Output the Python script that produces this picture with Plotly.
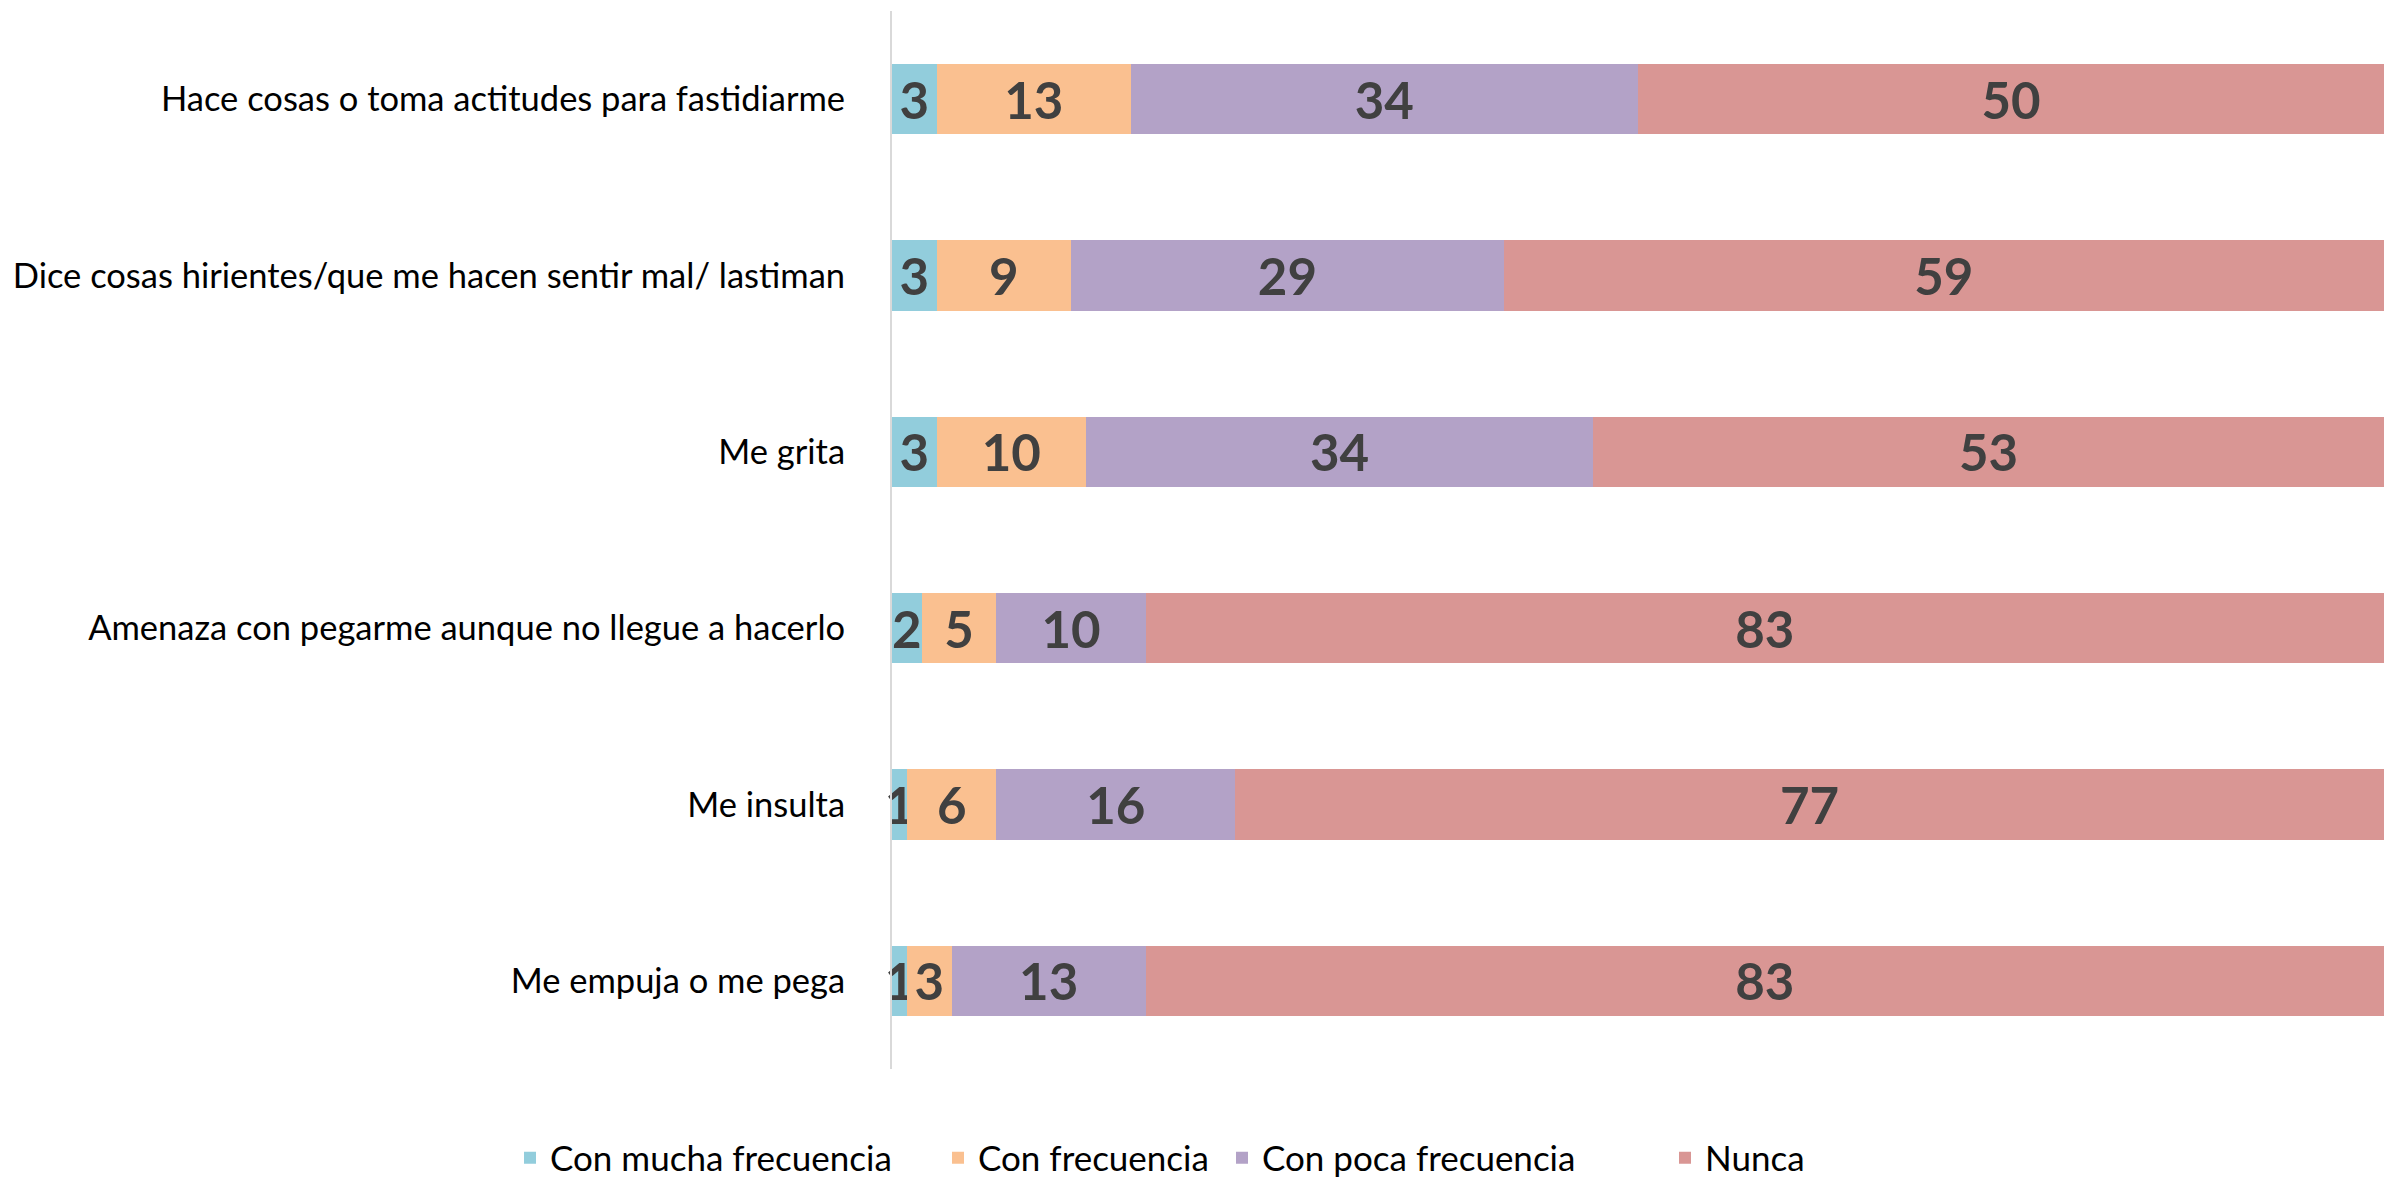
import plotly.graph_objects as go

categories = [
    "Hace cosas o toma actitudes para fastidiarme",
    "Dice cosas hirientes/que me hacen sentir mal/ lastiman",
    "Me grita",
    "Amenaza con pegarme aunque no llegue a hacerlo",
    "Me insulta",
    "Me empuja o me pega",
]
series_names = ["Con mucha frecuencia", "Con frecuencia", "Con poca frecuencia", "Nunca"]
con_mucha_frecuencia = [3, 3, 3, 2, 1, 1]
con_frecuencia = [13, 9, 10, 5, 6, 3]
con_poca_frecuencia = [34, 29, 34, 10, 16, 13]
nunca = [50, 59, 53, 83, 77, 83]
colors = ["#92CDDC", "#FAC090", "#B3A2C7", "#D99694"]

values = [con_mucha_frecuencia, con_frecuencia, con_poca_frecuencia, nunca]
legend_ids = ["legend", "legend2", "legend3", "legend4"]
legend_x = [510, 938, 1222, 1665]  # px from left of the page

fig = go.Figure()
for name, vals, col, lid in zip(series_names, values, colors, legend_ids):
    fig.add_trace(go.Bar(
        y=categories, x=vals, name=name, orientation="h",
        marker=dict(color=col, line=dict(width=0)),
        text=[str(v) for v in vals], textposition="inside",
        insidetextanchor="middle", textangle=0, constraintext="none",
        textfont=dict(family="Lato", size=51, color="#404040", weight="bold"),
        cliponaxis=False, legend=lid,
    ))

W, H = 2384, 1179
legend_common = dict(orientation="h", xref="container", yref="container",
                     xanchor="left", y=(H - 1158) / H, yanchor="middle",
                     font=dict(size=35, family="Lato", color="#000000"),
                     bgcolor="rgba(0,0,0,0)", borderwidth=0, itemwidth=30)
layout_legends = {}
for lid, lx in zip(legend_ids, legend_x):
    layout_legends[lid] = dict(legend_common, x=lx / W)

fig.update_layout(
    barmode="stack", bargap=0.6,
    width=W, height=H,
    margin=dict(l=892, r=0, t=11, b=110),
    paper_bgcolor="white", plot_bgcolor="white",
    font=dict(family="Lato", color="#000000"),
    showlegend=True,
    xaxis=dict(range=[0, 100], visible=False, fixedrange=True),
    yaxis=dict(autorange="reversed", showline=True, linecolor="#D9D9D9", linewidth=2,
               ticks="", showgrid=False, ticklabelstandoff=38,
               tickfont=dict(size=34.5, family="Lato", color="#000000")),
    **layout_legends,
)

fig.write_html("out.html", post_script="document.body.style.margin='0';",
               config={"displayModeBar": False})
